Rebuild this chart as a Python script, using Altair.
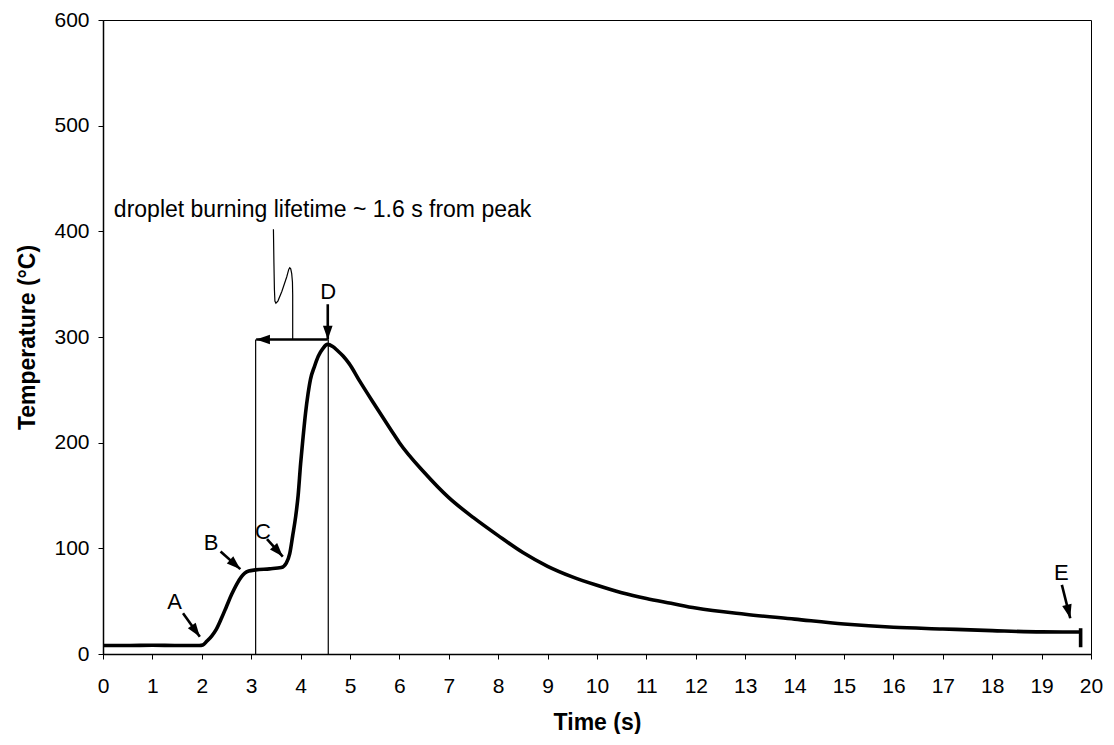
import math
import altair as alt
import pandas as pd

# ---- main temperature trace ----
time_s = [0.0, 0.5, 1.0, 1.5, 1.95, 2.02, 2.1, 2.2, 2.29, 2.4, 2.5, 2.6, 2.7, 2.8, 2.87,
          2.95, 3.09, 3.37, 3.61, 3.71, 3.78, 3.84, 3.9, 3.95, 4.0, 4.05, 4.1, 4.15, 4.2,
          4.28, 4.36, 4.45, 4.54, 4.65, 4.75, 4.86, 4.98, 5.2, 5.47, 5.83, 6.0, 6.5, 7.0,
          7.5, 8.0, 8.5, 9.0, 9.5, 10.0, 10.5, 11.0, 11.5, 12.0, 13.0, 14.0, 15.0, 16.0,
          17.0, 18.0, 19.0, 19.79]
temp_c = [8, 8, 8.3, 8, 8, 8.5, 12, 17, 23, 34, 45, 56, 65.5, 73, 76.5,
          78.5, 79.6, 80.6, 81.8, 86, 95, 112, 130, 150, 180, 205, 228, 246, 260,
          272, 282, 289, 293, 291, 287, 282, 275, 258, 238, 212, 200, 172, 148,
          129, 112, 96, 83, 73, 65, 58, 52.5, 48, 43.5, 37.6, 33, 28.4, 25.3,
          23.7, 22.1, 20.9, 20.8]

x_ticks = list(range(0, 21))
y_ticks = [0, 100, 200, 300, 400, 500, 600]

# ---- annotations ----
letter_text = ["A", "B", "C", "D", "E"]
letter_t = [1.45, 2.19, 3.24, 4.56, 19.4]
letter_v = [49.6, 105.5, 115.0, 343.0, 76.5]

arrow_t0 = [1.62, 2.38, 3.32, 4.55, 19.41, 4.55]
arrow_v0 = [38.5, 97.0, 108.7, 331.0, 65.4, 297.6]
arrow_t1 = [1.96, 2.78, 3.64, 4.55, 19.58, 3.10]
arrow_v1 = [16.4, 80.3, 92.2, 297.6, 33.8, 297.6]

guide_t = [3.09, 4.56]
guide_v_top = [297.6, 297.6]

leader_t = [3.84, 3.84, 3.835, 3.82, 3.80, 3.78, 3.76, 3.72, 3.62, 3.54, 3.50, 3.48, 3.47, 3.46, 3.45]
leader_v = [297.6, 340, 352, 360, 364.5, 365.5, 364, 357, 343, 334, 332, 334, 345, 370, 402]

end_t = [19.79]
end_v0 = [6.4]
end_v1 = [24.4]

note_text = ["droplet burning lifetime ~ 1.6 s from peak"]
note_t = [0.22]
note_v = [414.0]

W, H = 988, 634
X_DOM, Y_DOM = [0, 20], [0, 600]
px_t = W / (X_DOM[1] - X_DOM[0])
px_v = H / (Y_DOM[1] - Y_DOM[0])

xs = alt.Scale(domain=X_DOM, nice=False, zero=False)
ys = alt.Scale(domain=Y_DOM, nice=False, zero=False)
x_axis = alt.Axis(values=x_ticks, format="d", labelFlush=False, title="Time (s)")
y_axis = alt.Axis(values=y_ticks, format="d", labelFlush=False, title="Temperature (°C)")

curve_df = pd.DataFrame({"t": time_s, "v": temp_c})
letters_df = pd.DataFrame({"t": letter_t, "v": letter_v, "s": letter_text})
angles = []
for a, b, c, d in zip(arrow_t0, arrow_v0, arrow_t1, arrow_v1):
    dx = (c - a) * px_t
    dy = -(d - b) * px_v
    angles.append(math.degrees(math.atan2(dx, -dy)) % 360)
arrows_df = pd.DataFrame({"t0": arrow_t0, "v0": arrow_v0, "t1": arrow_t1, "v1": arrow_v1, "ang": angles})
guides_df = pd.DataFrame({"t": guide_t, "v0": [0, 0], "v1": guide_v_top})
leader_df = pd.DataFrame({"t": leader_t, "v": leader_v, "i": list(range(len(leader_t)))})
end_df = pd.DataFrame({"t": end_t, "v0": end_v0, "v1": end_v1})
note_df = pd.DataFrame({"t": note_t, "v": note_v, "s": note_text})

FONT = "Liberation Sans"


def X(f):
    return alt.X(f, scale=xs, axis=x_axis, title="Time (s)")


def Y(f):
    return alt.Y(f, scale=ys, axis=y_axis, title="Temperature (°C)")


curve = alt.Chart(curve_df).mark_line(color="black", strokeWidth=3.6, interpolate="monotone").encode(
    x=X("t:Q"), y=Y("v:Q"),
)

guides = alt.Chart(guides_df).mark_rule(color="black", strokeWidth=1.2).encode(
    x=X("t:Q"), y=Y("v0:Q"), y2="v1:Q",
)

leader = alt.Chart(leader_df).mark_line(color="black", strokeWidth=1.2, interpolate="linear").encode(
    x=X("t:Q"), y=Y("v:Q"), order="i:Q",
)

shafts = alt.Chart(arrows_df).mark_rule(color="black", strokeWidth=2.6).encode(
    x=X("t0:Q"), y=Y("v0:Q"), x2="t1:Q", y2="v1:Q",
)

heads = alt.Chart(arrows_df).mark_point(
    shape="M0,0 L0.7,2 L-0.7,2 Z", filled=True, color="black", size=190, opacity=1,
).encode(
    x=X("t1:Q"), y=Y("v1:Q"),
    angle=alt.Angle("ang:Q", scale=None),
)

end_bar = alt.Chart(end_df).mark_rule(color="black", strokeWidth=3.6).encode(
    x=X("t:Q"), y=Y("v0:Q"), y2="v1:Q",
)

letters = alt.Chart(letters_df).mark_text(font=FONT, fontSize=22, color="black",
                                          align="center", baseline="middle").encode(
    x=X("t:Q"), y=Y("v:Q"), text="s:N",
)

note = alt.Chart(note_df).mark_text(font=FONT, fontSize=23, color="black",
                                    align="left", baseline="alphabetic").encode(
    x=X("t:Q"), y=Y("v:Q"), text="s:N",
)

chart = alt.layer(curve, guides, leader, shafts, heads, end_bar, letters, note).properties(
    width=W, height=H,
    autosize=alt.AutoSizeParams(type="none"),
    padding={"left": 95, "top": 12, "right": 14, "bottom": 80},
    background="white",
).configure_view(
    stroke="black", strokeWidth=1,
).configure_axis(
    grid=False,
    domainColor="black", domainWidth=1.5,
    tickColor="black", tickSize=5, tickWidth=1,
    labelFont=FONT, labelFontSize=21, labelColor="black", labelPadding=9,
    titleFont=FONT, titleFontSize=23, titleFontWeight="bold", titleColor="black",
).configure_axisX(
    labelPadding=16, titlePadding=15,
).configure_axisY(
    titlePadding=14,
)

chart.save("out.html", embed_options={"renderer": "svg", "actions": False})
